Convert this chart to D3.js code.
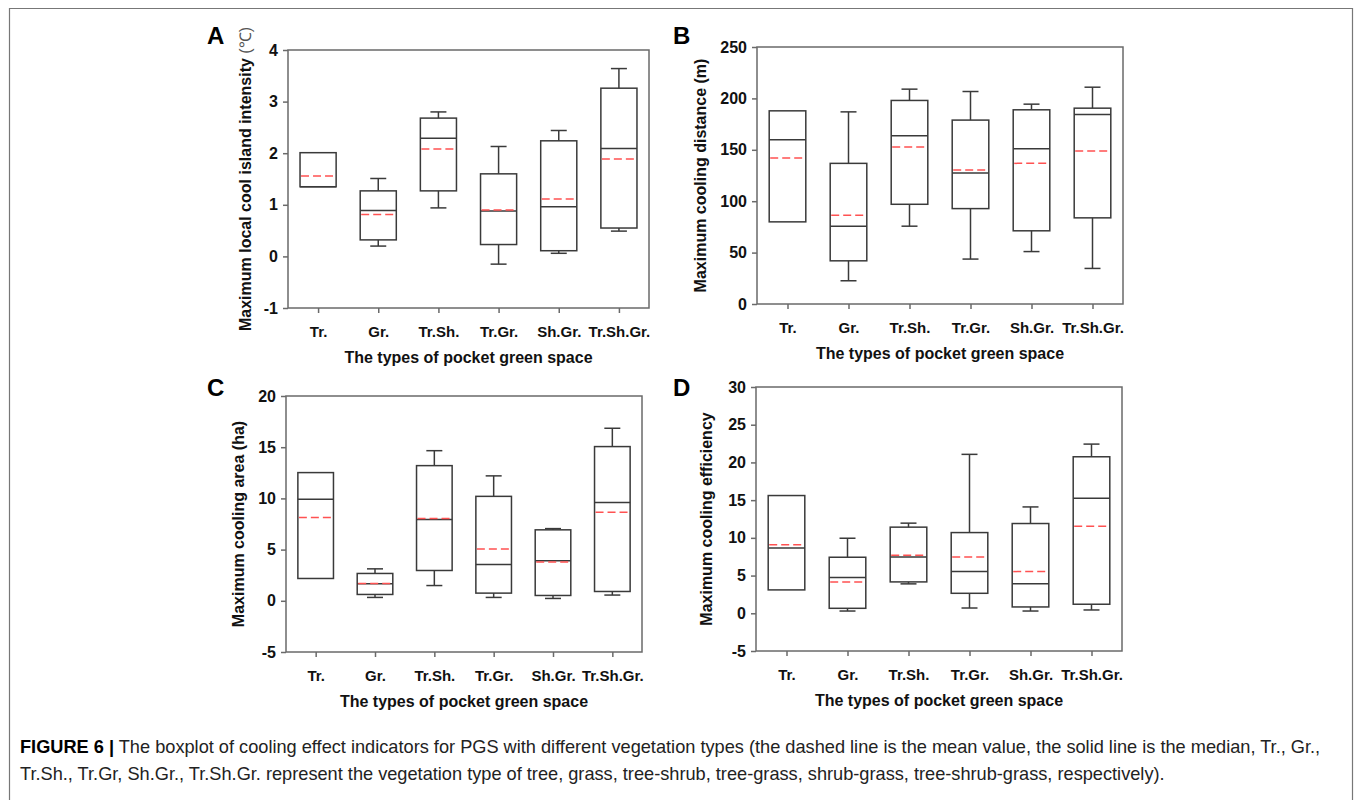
<!DOCTYPE html>
<html><head><meta charset="utf-8">
<script src="https://cdn.jsdelivr.net/npm/d3@7"></script>
<style>body{margin:0;background:#fff}</style>
</head><body><svg id="c" width="1357" height="800"></svg>
<script>
const categories = ["Tr.","Gr.","Tr.Sh.","Tr.Gr.","Sh.Gr.","Tr.Sh.Gr."];
const xTitle = "The types of pocket green space";

// Panel A: maximum local cool island intensity (°C)
const aMin  = [1.35, 0.20, 0.94, -0.15, 0.06, 0.49];
const aQ1   = [1.35, 0.32, 1.27, 0.23, 0.11, 0.55];
const aMed  = [1.35, 0.89, 2.29, 0.88, 0.96, 2.09];
const aQ3   = [2.01, 1.27, 2.68, 1.60, 2.24, 3.26];
const aMax  = [2.01, 1.51, 2.80, 2.13, 2.44, 3.64];
const aMean = [1.56, 0.81, 2.08, 0.90, 1.11, 1.89];
const aTicks = [-1, 0, 1, 2, 3, 4];

// Panel B: maximum cooling distance (m)
const bMin  = [79.9, 22.6, 75.7, 43.7, 51.0, 34.6];
const bQ1   = [79.9, 42.0, 97.0, 92.8, 71.2, 83.8];
const bMed  = [159.7, 75.7, 163.6, 127.4, 151.0, 184.4];
const bQ3   = [187.9, 136.8, 198.0, 178.9, 188.9, 190.5];
const bMax  = [187.9, 186.9, 209.0, 206.7, 194.4, 210.9];
const bMean = [142.0, 86.4, 152.7, 130.3, 136.8, 148.8];
const bTicks = [0, 50, 100, 150, 200, 250];

// Panel C: maximum cooling area (ha)
const cMin  = [2.18, 0.33, 1.49, 0.33, 0.23, 0.56];
const cQ1   = [2.18, 0.62, 2.96, 0.75, 0.52, 0.91];
const cMed  = [9.92, 1.66, 7.93, 3.54, 3.90, 9.59];
const cQ3   = [12.52, 2.67, 13.20, 10.20, 6.93, 15.06];
const cMax  = [12.52, 3.12, 14.66, 12.20, 7.05, 16.85];
const cMean = [8.13, 1.70, 8.03, 5.07, 3.78, 8.65];
const cTicks = [-5, 0, 5, 10, 15, 20];

// Panel D: maximum cooling efficiency
const dMin  = [3.10, 0.30, 3.90, 0.70, 0.30, 0.44];
const dQ1   = [3.10, 0.66, 4.16, 2.65, 0.84, 1.20];
const dMed  = [8.67, 4.73, 7.47, 5.53, 3.90, 15.26];
const dQ3   = [15.61, 7.43, 11.42, 10.70, 11.90, 20.75];
const dMax  = [15.61, 9.95, 11.95, 21.07, 14.10, 22.43];
const dMean = [9.10, 4.16, 7.70, 7.47, 5.53, 11.55];
const dTicks = [-5, 0, 5, 10, 15, 20, 25, 30];

const captionBold = "FIGURE 6 |";
const captionLine1 = " The boxplot of cooling effect indicators for PGS with different vegetation types (the dashed line is the mean value, the solid line is the median, Tr., Gr.,";
const captionLine2 = "Tr.Sh., Tr.Gr, Sh.Gr., Tr.Sh.Gr. represent the vegetation type of tree, grass, tree-shrub, tree-grass, shrub-grass, tree-shrub-grass, respectively).";

const panels = [
  {letter:"A", label:"Maximum local cool island intensity ", unit:"(\u2103)", min:aMin,q1:aQ1,med:aMed,q3:aQ3,max:aMax,mean:aMean,ticks:aTicks,
   left:288,right:649,top:50,bottom:308,labelX:245,letterX:207,letterY:44},
  {letter:"B", label:"Maximum cooling distance (m)", unit:"", min:bMin,q1:bQ1,med:bMed,q3:bQ3,max:bMax,mean:bMean,ticks:bTicks,
   left:757,right:1123,top:47,bottom:304,labelX:700,letterX:673,letterY:44},
  {letter:"C", label:"Maximum cooling area (ha)", unit:"", min:cMin,q1:cQ1,med:cMed,q3:cQ3,max:cMax,mean:cMean,ticks:cTicks,
   left:286,right:642,top:396,bottom:652,labelX:238,letterX:207,letterY:396},
  {letter:"D", label:"Maximum cooling efficiency", unit:"", min:dMin,q1:dQ1,med:dMed,q3:dQ3,max:dMax,mean:dMean,ticks:dTicks,
   left:756,right:1122,top:387,bottom:651,labelX:706,letterX:673,letterY:396}
];

const svg = d3.select("#c");
const FONT = "'Liberation Sans', Arial, Helvetica, sans-serif";
const frameCol = "#6a6a6a", boxCol = "#3a3a3a", meanCol = "#ff5252";

// outer frame
svg.append("path").attr("d","M9.5,800 V8.5 H1352.5 V800").attr("fill","none").attr("stroke","#777").attr("stroke-width",1.2);

panels.forEach(p => {
  const x = d3.scalePoint().domain(categories).range([p.left, p.right]).padding(0.5);
  const y = d3.scaleLinear().domain([p.ticks[0], p.ticks[p.ticks.length-1]]).range([p.bottom, p.top]);
  const g = svg.append("g");
  const bw = x.step() * 0.6, cw = 16;

  // plot frame
  g.append("rect").attr("x",p.left).attr("y",p.top).attr("width",p.right-p.left).attr("height",p.bottom-p.top)
    .attr("fill","none").attr("stroke",frameCol).attr("stroke-width",1.5);

  const yAx = g.append("g").attr("transform",`translate(${p.left},0)`)
    .call(d3.axisLeft(y).tickValues(p.ticks).tickSize(5).tickPadding(5).tickFormat(d => String(d)));
  const xAx = g.append("g").attr("transform",`translate(0,${p.bottom})`)
    .call(d3.axisBottom(x).tickSize(5).tickPadding(13));
  [yAx, xAx].forEach(a => {
    a.select(".domain").remove();
    a.selectAll("line").attr("stroke",frameCol).attr("stroke-width",1.5);
    a.selectAll("text").attr("font-family",FONT).attr("font-weight","bold").attr("fill","#111");
  });
  yAx.selectAll("text").attr("font-size",16);
  xAx.selectAll("text").attr("font-size",15);

  categories.forEach((c, i) => {
    const cx = x(c);
    const bg = g.append("g").attr("stroke",boxCol).attr("stroke-width",1.5).attr("fill","none");
    if (p.max[i] > p.q3[i]) {
      bg.append("line").attr("x1",cx).attr("x2",cx).attr("y1",y(p.max[i])).attr("y2",y(p.q3[i]));
      bg.append("line").attr("x1",cx-cw/2).attr("x2",cx+cw/2).attr("y1",y(p.max[i])).attr("y2",y(p.max[i]));
    }
    if (p.min[i] < p.q1[i]) {
      bg.append("line").attr("x1",cx).attr("x2",cx).attr("y1",y(p.q1[i])).attr("y2",y(p.min[i]));
      bg.append("line").attr("x1",cx-cw/2).attr("x2",cx+cw/2).attr("y1",y(p.min[i])).attr("y2",y(p.min[i]));
    }
    bg.append("rect").attr("x",cx-bw/2).attr("y",y(p.q3[i])).attr("width",bw).attr("height",y(p.q1[i])-y(p.q3[i]));
    bg.append("line").attr("x1",cx-bw/2).attr("x2",cx+bw/2).attr("y1",y(p.med[i])).attr("y2",y(p.med[i]));
    g.append("line").attr("x1",cx-bw/2+1).attr("x2",cx+bw/2).attr("y1",y(p.mean[i])).attr("y2",y(p.mean[i]))
      .attr("stroke",meanCol).attr("stroke-width",1.5).attr("stroke-dasharray","8,4");
  });

  // x title
  g.append("text").attr("x",(p.left+p.right)/2).attr("y",p.bottom+55).attr("text-anchor","middle")
    .attr("font-family",FONT).attr("font-size",16).attr("font-weight","bold").attr("fill","#111").text(xTitle);
  // y label
  const yl = g.append("text").attr("transform",`translate(${p.labelX},${(p.top+p.bottom)/2}) rotate(-90)`)
    .attr("text-anchor","middle").attr("dominant-baseline","central")
    .attr("font-family",FONT).attr("font-size",16).attr("font-weight","bold").attr("fill","#111");
  yl.append("tspan").text(p.label);
  if (p.unit) yl.append("tspan").attr("font-weight","normal").attr("fill","#555").text(p.unit);
  // letter
  g.append("text").attr("x",p.letterX).attr("y",p.letterY).attr("font-family",FONT).attr("font-size",24)
    .attr("font-weight","bold").attr("fill","#000").text(p.letter);
});

// caption
const cap1 = svg.append("text").attr("x",20).attr("y",753).attr("font-family",FONT).attr("font-size",18.2).attr("fill","#222");
cap1.append("tspan").attr("font-weight","bold").attr("fill","#000").text(captionBold);
cap1.append("tspan").text(captionLine1);
svg.append("text").attr("x",20).attr("y",780).attr("font-family",FONT).attr("font-size",18.2).attr("fill","#222").text(captionLine2);
</script></body></html>
